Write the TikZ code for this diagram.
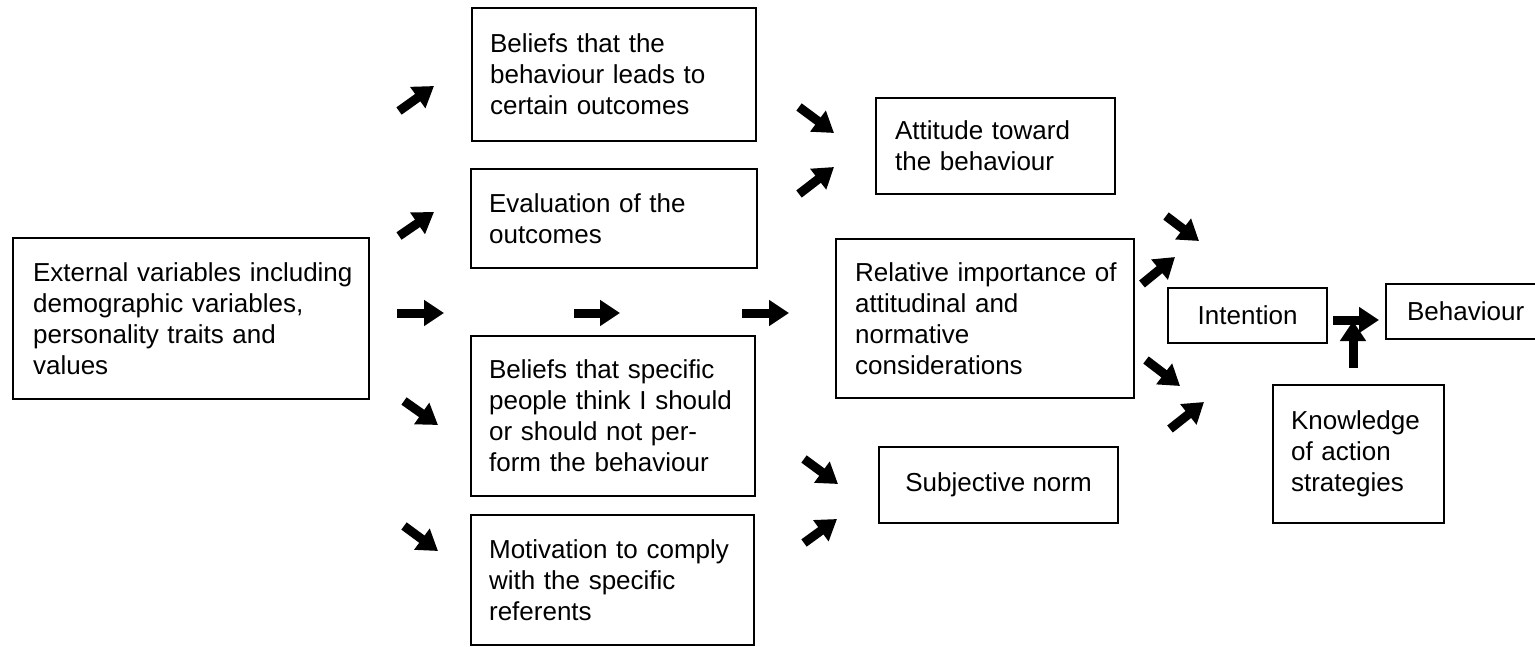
\documentclass[tikz,border=0pt]{standalone}
\usepackage{fontspec}
\setmainfont{Liberation Sans}
\usetikzlibrary{arrows.meta}
\begin{document}
\begin{tikzpicture}[x=1pt,y=-1pt,
  box/.style={draw, line width=2.2pt, anchor=north west, inner ysep=0pt,
    align=left, font=\fontsize{26}{31}\selectfont},
  cbox/.style={draw, line width=2.2pt, anchor=north west, inner sep=0pt,
    align=center, font=\fontsize{26}{31}\selectfont},
  arr/.style={line width=9pt, -{Triangle[length=20pt,width=25pt]}}
]
\useasboundingbox (0,0) rectangle (1535,646);
% boxes
\node[box, minimum width=356pt, minimum height=161pt, text width=316pt, inner xsep=20pt] (ext) at (12,237)
  {\mbox{External variables including}\\demographic variables,\\personality traits and\\values};
\node[box, minimum width=284pt, minimum height=133pt, text width=248pt, inner xsep=18pt] (bo) at (471,7)
  {Beliefs that the\\behaviour leads to\\certain outcomes};
\node[box, minimum width=286pt, minimum height=99pt, text width=250pt, inner xsep=18pt] (ev) at (470,168)
  {Evaluation of the\\outcomes};
\node[box, minimum width=284pt, minimum height=160pt, text width=248pt, inner xsep=18pt] (bs) at (470,335)
  {Beliefs that specific\\\mbox{people think I should}\\or should not per-\\form the behaviour};
\node[box, minimum width=283pt, minimum height=130pt, text width=247pt, inner xsep=18pt] (mo) at (470,514)
  {\mbox{Motivation to comply}\\with the specific\\referents};
\node[box, minimum width=239pt, minimum height=96pt, text width=201pt, inner xsep=19pt] (at) at (875,97)
  {Attitude toward\\the behaviour};
\node[box, minimum width=298pt, minimum height=159pt, text width=260pt, inner xsep=19pt] (ri) at (835,238)
  {\mbox{Relative importance of}\\attitudinal and\\normative\\considerations};
\node[cbox, minimum width=239pt, minimum height=76pt] (sn) at (878,446) {Subjective norm};
\node[cbox, minimum width=159pt, minimum height=55pt] (in) at (1167,287) {Intention};
\node[box, minimum width=170pt, minimum height=55pt, text width=128pt, inner xsep=21pt] (be) at (1385,283) {Behaviour};
\node[box, minimum width=171pt, minimum height=138pt, text width=135pt, inner xsep=18pt] (kn) at (1272,384)
  {Knowledge\\of action\\strategies};
% arrow end points
\coordinate (a1s) at (399,111);  \coordinate (a1e) at (434,86);
\coordinate (a2s) at (399,236);  \coordinate (a2e) at (434,212);
\coordinate (a3s) at (397,313);  \coordinate (a3e) at (444,313);
\coordinate (a4s) at (574,313);  \coordinate (a4e) at (620,313);
\coordinate (a5s) at (742,313);  \coordinate (a5e) at (789,313);
\coordinate (a6s) at (404,401);  \coordinate (a6e) at (438,425);
\coordinate (a7s) at (404,526);  \coordinate (a7e) at (438,551);
\coordinate (a8s) at (799,107);  \coordinate (a8e) at (834,133);
\coordinate (a9s) at (799,194);  \coordinate (a9e) at (834,167);
\coordinate (a10s) at (1166,216); \coordinate (a10e) at (1199,241);
\coordinate (a11s) at (1142,284); \coordinate (a11e) at (1175,257);
\coordinate (a12s) at (1146,360); \coordinate (a12e) at (1180,386);
\coordinate (a13s) at (1170,429); \coordinate (a13e) at (1204,402);
\coordinate (a14s) at (804,459);  \coordinate (a14e) at (838,484);
\coordinate (a15s) at (804,543);  \coordinate (a15e) at (837,519);
\coordinate (a16s) at (1333,320); \coordinate (a16e) at (1379,320);
\coordinate (a17s) at (1353,368); \coordinate (a17e) at (1353,321);
\foreach \i in {1,...,17} \draw[arr] (a\i s) -- (a\i e);
\end{tikzpicture}
\end{document}
